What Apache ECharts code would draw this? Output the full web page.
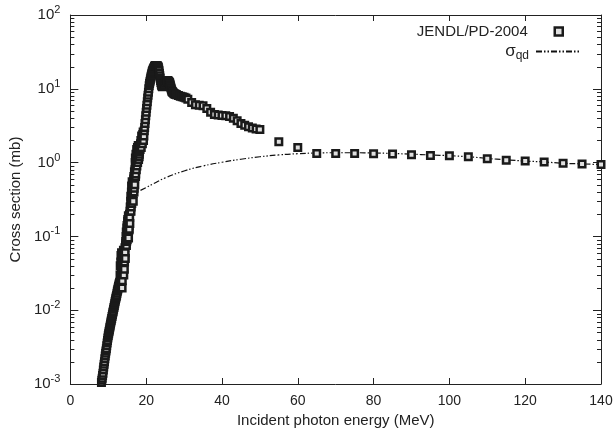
<!DOCTYPE html>
<html>
<head>
<meta charset="utf-8">
<script src="https://cdn.jsdelivr.net/npm/echarts@6/dist/echarts.min.js"></script>
<style>html,body{margin:0;padding:0;background:#fff;}#c{width:616px;height:439px;}</style>
</head>
<body>
<div id="c"></div>
<script>
// JENDL/PD-2004 evaluated cross section: energies (MeV) and values (mb)
const jendlE = [
  8.2,8.3,8.4,8.5,8.6,8.7,8.8,8.9,9.0,9.1,9.2,9.3,9.4,9.5,9.6,9.7,9.8,9.9,10.0,10.1,10.2,10.3,10.4,10.5,10.6,10.7,10.8,10.9,
  11.0,11.1,11.2,11.3,11.4,11.5,11.6,11.7,11.8,11.9,12.0,12.1,12.2,12.3,12.4,12.5,12.6,12.7,12.8,12.9,13.0,
  13.1,13.15,13.2,13.25,13.3,13.35,13.4,13.45,13.5,13.55,13.6,13.65,13.7,13.75,13.8,13.85,13.9,13.95,14.0,14.05,
  14.1,14.15,14.2,14.25,14.3,14.35,14.4,14.45,14.5,14.55,14.6,
  14.65,14.7,14.75,14.8,14.85,14.9,14.95,15.0,15.05,15.1,15.15,15.2,15.25,15.3,15.35,15.4,15.45,15.5,15.55,15.6,15.65,15.7,15.75,15.8,
  15.85,15.9,15.95,16.0,16.05,16.1,16.15,16.2,16.25,16.3,16.35,16.4,16.45,16.5,16.55,16.6,16.65,16.7,16.75,16.8,16.85,16.9,16.95,17.0,
  17.05,17.1,17.15,17.2,17.25,17.3,17.35,17.4,17.45,17.5,17.55,17.6,17.65,17.7,17.75,17.8,17.85,17.9,17.95,18.0,
  18.05,18.1,18.15,18.2,18.25,18.3,18.35,18.4,18.45,18.5,
  18.6,18.7,18.8,18.9,19.0,19.1,19.2,19.3,19.4,19.5,19.6,19.7,19.8,19.9,20.0,20.1,20.2,20.3,20.4,20.5,20.6,20.7,20.8,20.9,
  21.0,21.1,21.2,21.3,21.4,21.5,21.6,21.7,21.8,21.9,22.0,22.1,22.2,22.3,22.4,22.5,22.6,22.7,22.8,22.9,
  23.0,23.1,23.2,23.3,23.4,23.5,23.6,23.7,23.8,23.9,24.0,24.1,24.2,24.3,24.4,24.5,24.6,24.7,24.8,24.9,
  25.0,25.1,25.2,25.3,25.4,25.5,25.6,25.7,25.8,25.9,26.0,26.1,26.2,26.3,26.4,26.5,26.6,26.7,26.8,26.9,
  27.0,27.2,27.4,27.6,27.8,28.0,
  28.5,29.0,29.5,30.0,30.5,31.0,32.0,33.0,34.0,35.0,36.0,37.0,38.0,39.0,40.0,41.0,42.0,43.0,44.0,45.0,46.0,47.0,48.0,49.0,50.0,
  55,60,65,70,75,80,85,90,95,100,105,110,115,120,125,130,135,140
];
const jendlV = [
  0.00105,0.00112,0.0012,0.0013,0.0014,0.00155,0.0017,0.00185,0.0020,0.0022,0.0024,0.0026,0.0028,0.0030,0.0033,0.0036,0.0039,0.0042,0.0045,0.0048,0.0051,0.0054,0.0058,0.0061,0.0065,0.0069,0.0073,0.0077,
  0.0082,0.0087,0.0092,0.0097,0.0103,0.0109,0.0115,0.0122,0.013,0.0137,0.0145,0.0152,0.016,0.017,0.018,0.019,0.020,0.021,0.022,0.023,0.024,
  0.030,0.040,0.022,0.026,0.045,0.055,0.028,0.033,0.060,0.048,0.035,0.020,0.025,0.038,0.050,0.058,0.040,0.032,0.065,0.045,
  0.030,0.062,0.055,0.036,0.045,0.052,0.070,0.060,0.050,0.075,0.085,
  0.08,0.10,0.115,0.075,0.085,0.13,0.14,0.09,0.10,0.16,0.17,0.11,0.13,0.19,0.095,0.12,0.17,0.14,0.125,0.20,0.18,0.15,0.22,0.25,
  0.25,0.30,0.35,0.22,0.25,0.40,0.48,0.28,0.32,0.55,0.42,0.35,0.5,0.45,0.38,0.30,0.52,0.60,0.65,0.40,0.45,0.75,0.6,0.50,
  0.8,1.0,1.15,0.65,0.7,1.3,1.05,0.8,1.25,1.5,0.9,1.0,1.4,1.6,1.0,1.2,1.45,1.7,1.3,1.1,
  1.6,1.5,1.2,1.3,1.4,1.7,1.6,1.5,1.7,1.8,
  2.0,1.6,2.3,2.0,1.8,2.4,2.6,2.0,2.3,2.7,3.0,3.4,3.8,4.3,4.8,5.4,6.0,6.7,7.5,8.2,9.0,10,11,11.8,
  12.5,13.2,14,14.8,15.5,16.3,17,17.5,18,18.5,19,19.5,20,20.3,20.5,20.6,20.5,20.6,20.5,20.4,
  20.3,20,19.5,18.5,17.5,16.2,15,14,13,12.2,11.5,11.1,10.8,10.7,10.8,10.9,11,11.2,11.5,11.8,
  12,12.3,12.5,12.8,13,13,13,12.9,12.8,12.6,12.5,12.2,12,11.5,11,10.5,10,9.6,9.3,9.1,
  9.0,8.8,8.6,8.5,8.4,8.3,
  8.1,7.9,7.8,7.7,7.5,7.2,6.5,6.1,6.0,5.9,5.4,4.8,4.5,4.4,4.35,4.3,4.2,4.0,3.7,3.4,3.2,3.05,2.95,2.85,2.8,
  1.92,1.6,1.33,1.33,1.33,1.32,1.31,1.28,1.25,1.24,1.2,1.13,1.08,1.05,1.02,0.98,0.96,0.94
];
// sigma_qd (quasi-deuteron) curve
const qdE = [18.5,20,22,25,30,35,40,45,50,55,60,65,70,75,80,85,90,95,100,105,110,115,120,125,130,135,140];
const qdV = [0.42,0.46,0.52,0.62,0.77,0.9,1.01,1.11,1.2,1.27,1.32,1.35,1.36,1.36,1.35,1.33,1.3,1.27,1.24,1.2,1.14,1.09,1.05,1.02,0.98,0.96,0.94];
const xTicks = [0,20,40,60,80,100,120,140];
const yDecades = [-3,-2,-1,0,1,2];

const FONT = '"Liberation Sans", Arial, sans-serif';
const INK = '#222';
const chart = echarts.init(document.getElementById('c'), null, {renderer: 'canvas'});
const xMin = xTicks[0], xMax = xTicks[xTicks.length - 1];
const yMin = Math.pow(10, yDecades[0]), yMax = Math.pow(10, yDecades[yDecades.length - 1]);
const axisLineStyle = {color: INK, width: 1};
const markerStyle = {color: '#e0e0e0', borderColor: '#1a1a1a', borderWidth: 2.5, opacity: 1};

const option = {
  animation: false,
  backgroundColor: '#fff',
  grid: {left: 68, right: 15, top: 15, bottom: 55},
  legend: [
    {orient: 'vertical', right: 47, top: 19, align: 'right',
     itemWidth: 8, itemHeight: 8, icon: 'rect',
     itemStyle: markerStyle,
     textStyle: {fontFamily: FONT, fontSize: 15, color: INK, padding: [0, 22, 0, 0]},
     data: ['JENDL/PD-2004']},
    {orient: 'vertical', right: 29, top: 38, align: 'right',
     itemWidth: 45, itemHeight: 12,
     itemStyle: {opacity: 0},
     textStyle: {fontFamily: FONT, fontSize: 17, color: INK, padding: [0, 2, 0, 0],
       rich: {sub: {fontSize: 12, fontFamily: FONT, color: INK, verticalAlign: 'bottom', padding: [8,0,0,0]}}},
     formatter: function () { return 'σ{sub|qd}'; },
     data: ['sigma']}
  ],
  xAxis: [
    {type: 'value', min: xMin, max: xMax, interval: 20, position: 'bottom',
     axisLine: {onZero: false, lineStyle: axisLineStyle},
     axisTick: {inside: true, length: 6, lineStyle: axisLineStyle},
     splitLine: {show: false},
     axisLabel: {fontFamily: FONT, fontSize: 14, color: INK, margin: 10},
     name: 'Incident photon energy (MeV)', nameLocation: 'middle', nameGap: 25,
     nameTextStyle: {fontFamily: FONT, fontSize: 15, color: INK}},
    {type: 'value', min: xMin, max: xMax, interval: 20, position: 'top',
     axisLine: {onZero: false, lineStyle: axisLineStyle},
     axisTick: {inside: true, length: 6, lineStyle: axisLineStyle},
     splitLine: {show: false}, axisLabel: {show: false}}
  ],
  yAxis: [
    {type: 'log', logBase: 10, min: yMin, max: yMax, position: 'left',
     axisLine: {onZero: false, lineStyle: axisLineStyle},
     axisTick: {inside: true, length: 8, lineStyle: axisLineStyle},
     splitLine: {show: false},
     axisLabel: {fontFamily: FONT, fontSize: 15, color: INK, margin: 10,
       formatter: function (v) { const e = Math.round(Math.log10(v)); return '10{s|' + e + '}'; },
       rich: {s: {fontSize: 11, fontFamily: FONT, color: INK, verticalAlign: 'top', padding: [0,0,10,0]}}},
     name: 'Cross section (mb)', nameLocation: 'middle', nameGap: 38,
     nameTextStyle: {fontFamily: FONT, fontSize: 15, color: INK}},
    {type: 'log', logBase: 10, min: yMin, max: yMax, position: 'right',
     axisLine: {onZero: false, lineStyle: axisLineStyle},
     axisTick: {inside: true, length: 8, lineStyle: axisLineStyle},
     splitLine: {show: false}, axisLabel: {show: false}}
  ],
  series: [
    {name: 'sigma', type: 'line', xAxisIndex: 0, yAxisIndex: 0,
     data: qdE.map((e, i) => [e, qdV[i]]), smooth: true, showSymbol: false, symbol: 'none',
     lineStyle: {color: '#111', width: 1.2, type: [6, 2, 1.5, 2, 1.5, 2]},
     itemStyle: {color: '#111'}, z: 2},
    {name: 'JENDL/PD-2004', type: 'scatter', xAxisIndex: 0, yAxisIndex: 0,
     data: jendlE.map((e, i) => [e, jendlV[i]]), symbol: 'rect', symbolSize: 6.5,
     itemStyle: markerStyle, z: 3}
  ]
};
chart.setOption(option);

// log minor ticks (2..9 per decade) on left and right frame edges
const xl = chart.convertToPixel({xAxisIndex: 0}, xMin);
const xr = chart.convertToPixel({xAxisIndex: 0}, xMax);
const els = [];
for (let d = 0; d < yDecades.length - 1; d++) {
  for (let m = 2; m <= 9; m++) {
    const v = m * Math.pow(10, yDecades[d]);
    const py = Math.round(chart.convertToPixel({yAxisIndex: 0}, v)) + 0.5;
    els.push({type: 'line', shape: {x1: xl, y1: py, x2: xl + 4, y2: py}, style: {stroke: INK, lineWidth: 1}});
    els.push({type: 'line', shape: {x1: xr, y1: py, x2: xr - 4, y2: py}, style: {stroke: INK, lineWidth: 1}});
  }
}
chart.setOption({graphic: els});
</script>
</body>
</html>
